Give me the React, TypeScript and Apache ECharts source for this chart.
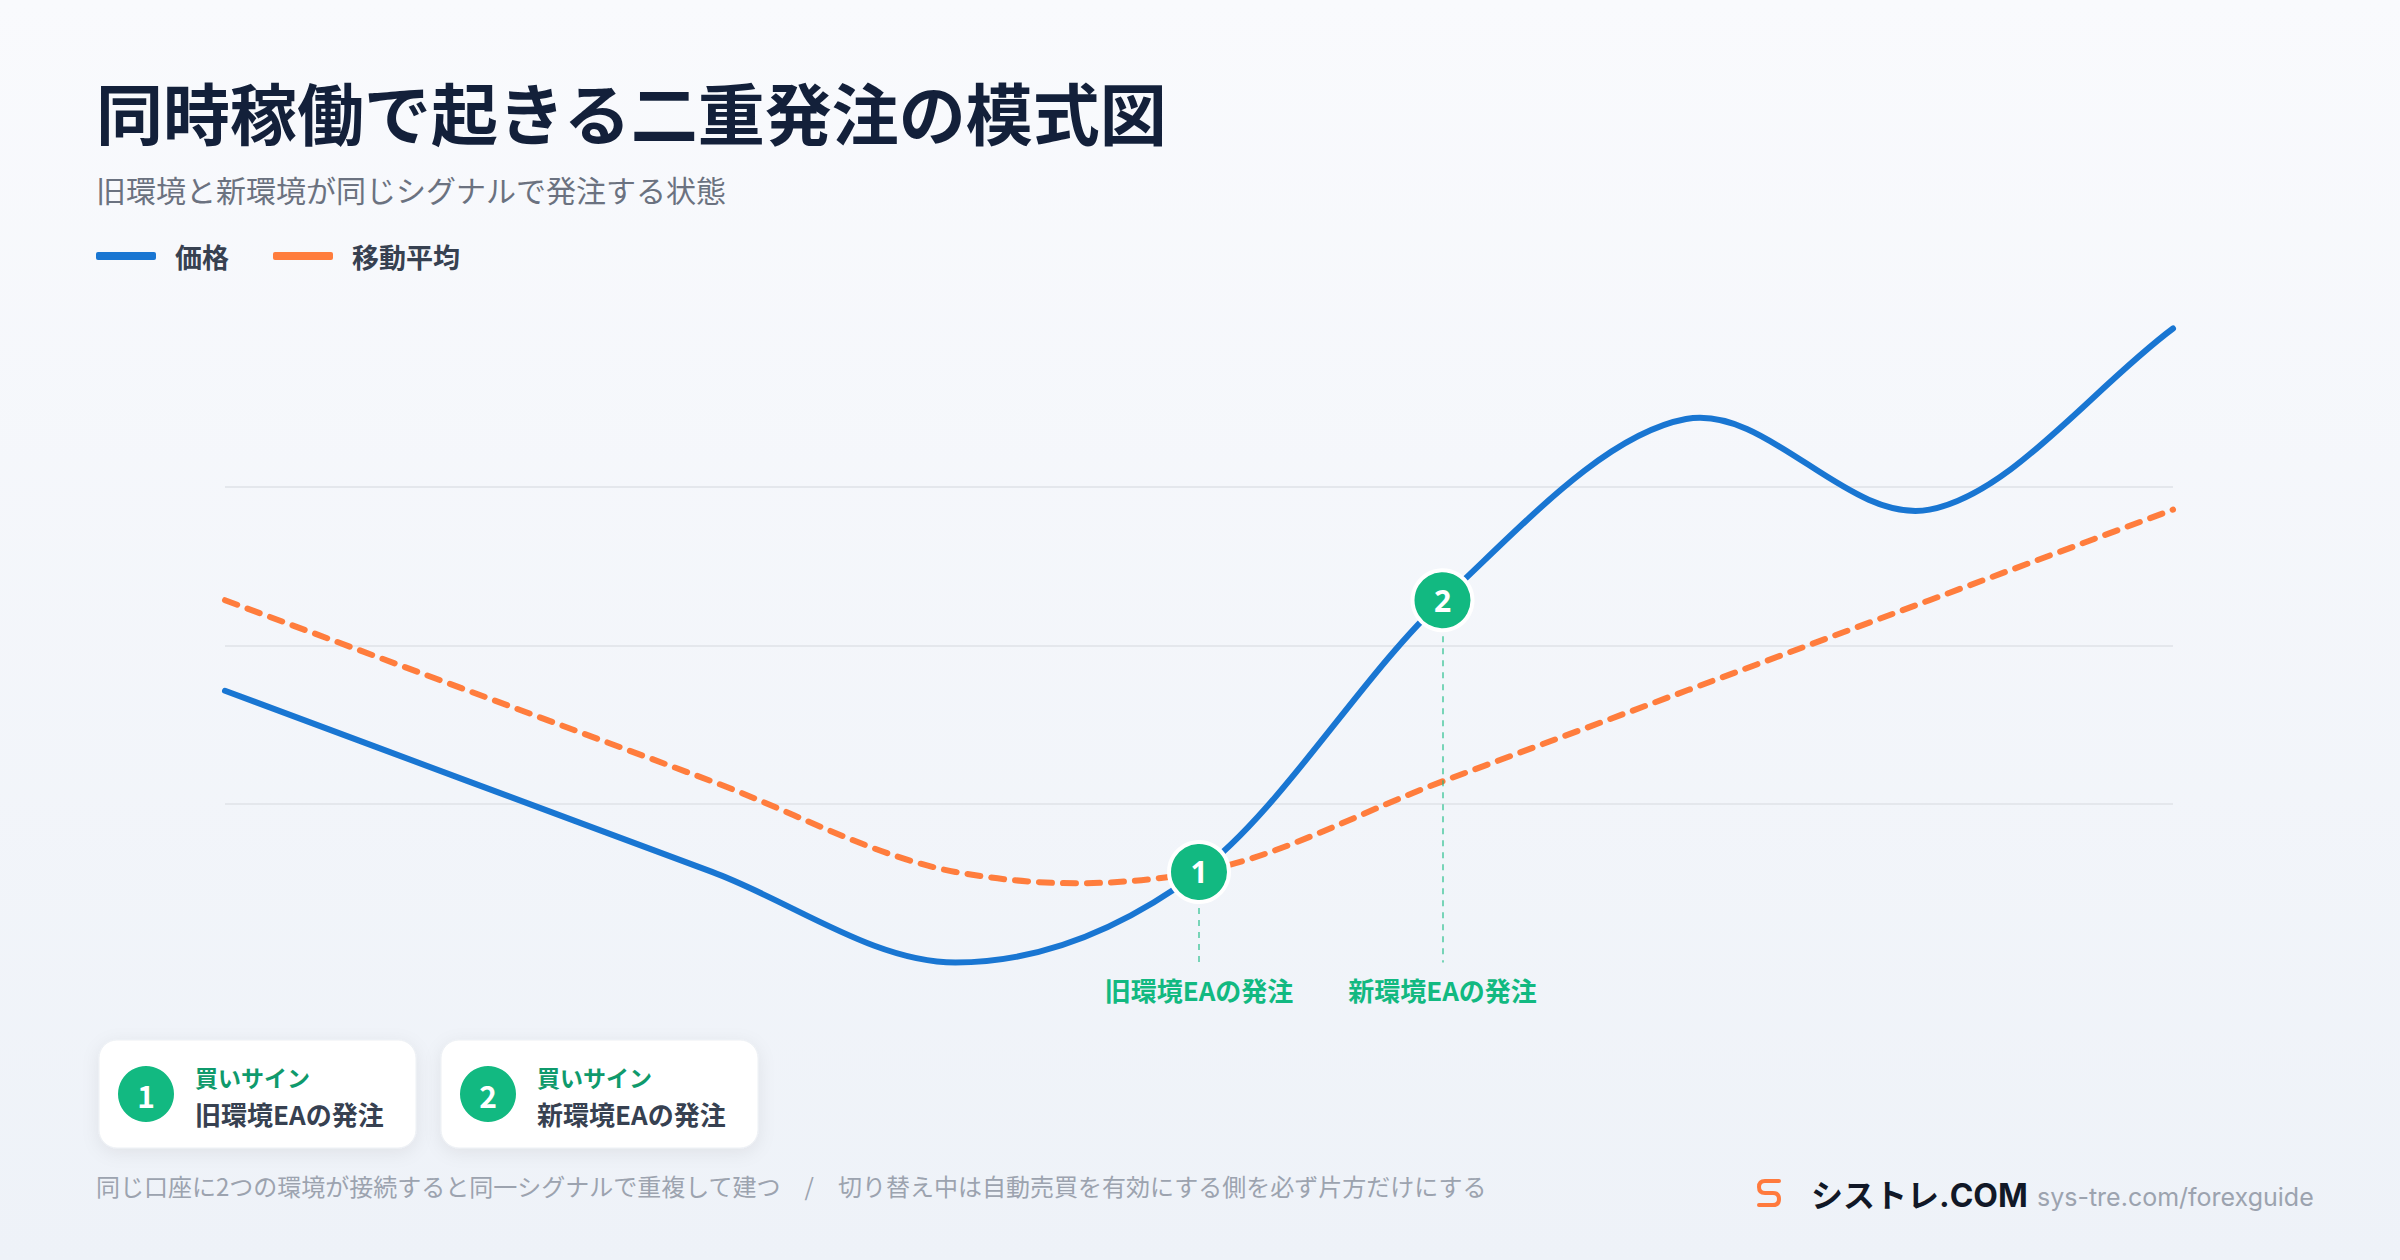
import React, { useEffect, useRef } from "react";
import * as echarts from "echarts";

const categories = ["t1", "t2", "t3", "t4", "t5", "t6", "t7", "t8", "t9"];
const priceValues = [12, 8, 4, 0, 4, 16, 24, 20, 28];
const maValues = [16, 12, 8, 4, 4, 8, 12, 16, 20];
const seriesNames = ["価格", "移動平均"];
const signalIndex = [4, 5];
const signalNumbers = ["1", "2"];
const signalLabels = ["旧環境EAの発注", "新環境EAの発注"];
const cardTitles = ["買いサイン", "買いサイン"];

const TITLE = "同時稼働で起きる二重発注の模式図";
const SUBTITLE = "旧環境と新環境が同じシグナルで発注する状態";
const FOOTER = "同じ口座に2つの環境が接続すると同一シグナルで重複して建つ　/　切り替え中は自動売買を有効にする側を必ず片方だけにする";
const BRAND = "シストレ.COM";
const URL = "sys-tre.com/forexguide";

const JP = '"Noto Sans CJK JP", "Noto Sans", sans-serif';
const BLUE = "#1976d2";
const ORANGE = "#ff7d3d";
const GREEN = "#12b981";

let registered = false;
function registerLogo() {
  if (registered) return;
  registered = true;
  const d = "M22 2 L8 2 Q2 2 2 8 Q2 14 8 14 L16 14 Q22 14 22 20 Q22 26 16 26 L2 26";
  echarts.graphic.registerShape("logo", echarts.graphic.extendPath(d, {}) as any);
}

// Catmull-Rom curve through the points given by the axes
function curveRenderer(values: number[], color: string, dash: number[] | null) {
  return (params: any, api: any) => {
    if (params.dataIndex !== 0) return null;
    const pts = values.map((v, i) => api.coord([i, v]));
    const n = pts.length;
    const ext = [
      [2 * pts[0][0] - pts[1][0], 2 * pts[0][1] - pts[1][1]],
      ...pts,
      [2 * pts[n - 1][0] - pts[n - 2][0], 2 * pts[n - 1][1] - pts[n - 2][1]],
    ];
    let d = `M${pts[0][0]} ${pts[0][1]}`;
    for (let i = 0; i < n - 1; i++) {
      const p0 = ext[i], p1 = ext[i + 1], p2 = ext[i + 2], p3 = ext[i + 3];
      const c1x = p1[0] + (p2[0] - p0[0]) / 6;
      const c1y = p1[1] + (p2[1] - p0[1]) / 6;
      const c2x = p2[0] - (p3[0] - p1[0]) / 6;
      const c2y = p2[1] - (p3[1] - p1[1]) / 6;
      d += ` C${c1x} ${c1y} ${c2x} ${c2y} ${p2[0]} ${p2[1]}`;
    }
    const style: any = { stroke: color, fill: "none", lineWidth: 6, lineCap: "round", lineJoin: "round" };
    if (dash) style.lineDash = dash;
    return { type: "path", shape: { pathData: d }, style, silent: true };
  };
}

function card(i: number, x: number) {
  return [
    {
      type: "rect",
      shape: { x, y: 1040, width: 317, height: 108, r: 18 },
      style: { fill: "#ffffff", stroke: "#edf0f4", lineWidth: 1, shadowBlur: 18, shadowOffsetY: 4, shadowColor: "rgba(15,23,42,0.07)" },
      z: 10,
    },
    { type: "circle", shape: { cx: x + 47, cy: 1094, r: 28 }, style: { fill: GREEN }, z: 11 },
    {
      type: "text",
      x: x + 47,
      y: 1095,
      style: { text: signalNumbers[i], fill: "#fff", font: `bold 30px ${JP}`, textAlign: "center", textVerticalAlign: "middle" },
      z: 12,
    },
    {
      type: "text",
      x: x + 96,
      y: 1077,
      style: { text: cardTitles[i], fill: "#0f9a6c", font: `bold 23px ${JP}`, textAlign: "left", textVerticalAlign: "middle" },
      z: 12,
    },
    {
      type: "text",
      x: x + 96,
      y: 1113,
      style: { text: signalLabels[i], fill: "#374151", font: `bold 26px ${JP}`, textAlign: "left", textVerticalAlign: "middle" },
      z: 12,
    },
  ];
}

export default function App() {
  const ref = useRef<HTMLDivElement>(null);
  useEffect(() => {
    if (!ref.current) return;
    registerLogo();
    const chart = echarts.init(ref.current, null, { renderer: "svg" });
    const markPointData = signalIndex.map((idx, k) => ({
      coord: [categories[idx], priceValues[idx]],
      label: { formatter: signalNumbers[k] },
    }));
    const markLineData = signalIndex.map((idx, k) => [
      { coord: [categories[idx], priceValues[idx]], label: { formatter: signalLabels[k] } },
      { coord: [categories[idx], 0] },
    ]);
    chart.setOption({
      animation: false,
      backgroundColor: new echarts.graphic.LinearGradient(0, 0, 0, 1, [
        { offset: 0, color: "#f9fafd" },
        { offset: 1, color: "#eef2f8" },
      ]),
      textStyle: { fontFamily: JP },
      grid: { left: 225, right: 227, top: 328.5, bottom: 297.5, containLabel: false },
      legend: {
        left: 96,
        top: 240,
        padding: 0,
        icon: "roundRect",
        itemWidth: 60,
        itemHeight: 8,
        itemGap: 44,
        data: seriesNames,
        textStyle: { fontSize: 27, fontWeight: "bold", color: "#374151", fontFamily: JP, padding: [0, 0, 0, 14], lineHeight: 32 },
      },
      xAxis: { type: "category", data: categories, boundaryGap: false, show: false },
      yAxis: {
        type: "value",
        min: 0,
        max: 28,
        interval: 7,
        axisLabel: { show: false },
        axisLine: { show: false },
        axisTick: { show: false },
        splitLine: { show: true, showMinLine: false, showMaxLine: false, lineStyle: { color: "#e4e7ec", width: 2 } },
      },
      series: [
        {
          name: seriesNames[1],
          type: "custom",
          data: maValues.map((v, i) => [i, v]),
          encode: { x: 0, y: 1 },
          itemStyle: { color: ORANGE },
          renderItem: curveRenderer(maValues, ORANGE, [13, 11]),
          z: 2,
        },
        {
          name: seriesNames[0],
          type: "custom",
          data: priceValues.map((v, i) => [i, v]),
          encode: { x: 0, y: 1 },
          itemStyle: { color: BLUE },
          renderItem: curveRenderer(priceValues, BLUE, null),
          z: 3,
        },
        {
          name: "シグナル",
          type: "line",
          data: priceValues,
          showSymbol: false,
          silent: true,
          lineStyle: { opacity: 0 },
          z: 4,
          markLine: {
            silent: true,
            symbol: ["none", "none"],
            lineStyle: { color: "rgba(18,185,129,0.55)", width: 2, type: [6, 6] },
            label: { show: true, position: "end", distance: 14, color: GREEN, fontSize: 26, fontWeight: "bold", fontFamily: JP },
            data: markLineData,
          },
          markPoint: {
            symbol: "circle",
            symbolSize: 60,
            itemStyle: { color: GREEN, borderColor: "#ffffff", borderWidth: 4 },
            label: { show: true, color: "#fff", fontSize: 30, fontWeight: "bold", fontFamily: '"Noto Sans", sans-serif' },
            data: markPointData,
          },
        },
      ],
      graphic: [
        {
          type: "text",
          x: 96,
          y: 110,
          style: { text: TITLE, fill: "#13203a", font: `bold 67px ${JP}`, textAlign: "left", textVerticalAlign: "middle" },
        },
        {
          type: "text",
          x: 96,
          y: 189,
          style: { text: SUBTITLE, fill: "#6b7280", font: `30px ${JP}`, textAlign: "left", textVerticalAlign: "middle" },
        },
        ...card(0, 99),
        ...card(1, 441),
        {
          type: "text",
          x: 96,
          y: 1185,
          style: { text: FOOTER, fill: "#9ca3af", font: `24px ${JP}`, textAlign: "left", textVerticalAlign: "middle" },
        },
        {
          type: "logo",
          x: 1757,
          y: 1179,
          style: { stroke: "#ff7a3d", fill: "none", lineWidth: 4, lineCap: "round" },
        },
        {
          type: "text",
          x: 1811,
          y: 1195,
          style: { text: BRAND, fill: "#111827", font: `bold 32px Inter, ${JP}`, textAlign: "left", textVerticalAlign: "middle" },
        },
        {
          type: "text",
          x: 2037,
          y: 1197,
          style: { text: URL, fill: "#9ca3af", font: `25px Inter, "Noto Sans", sans-serif`, textAlign: "left", textVerticalAlign: "middle" },
        },
      ],
    });
    return () => chart.dispose();
  }, []);
  return <div ref={ref} style={{ position: "fixed", left: 0, top: 0, width: 2400, height: 1260 }} />;
}
